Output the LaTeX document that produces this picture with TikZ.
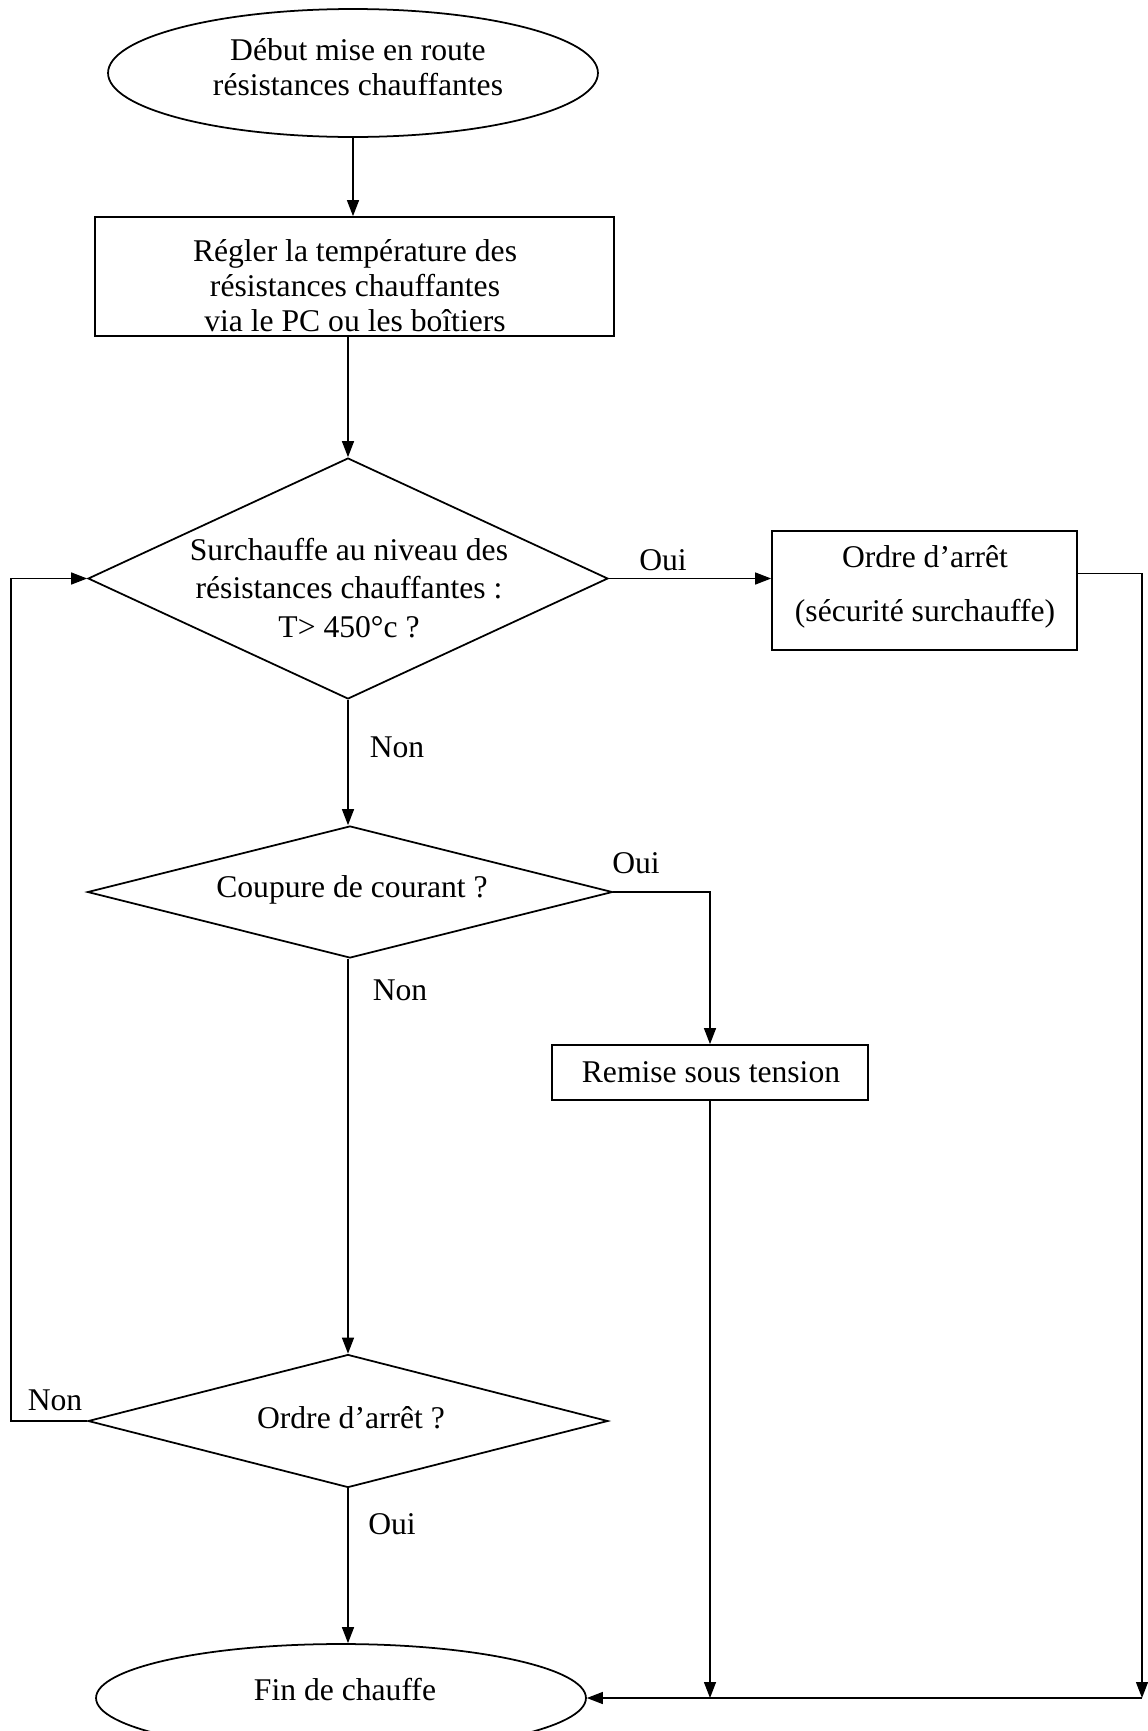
\documentclass[tikz,border=0pt]{standalone}
\usepackage{fontspec}
\setmainfont{Liberation Serif}
\usetikzlibrary{shapes.geometric,arrows.meta}
\begin{document}
\begin{tikzpicture}[x=0.02cm,y=-0.02cm,
  every node/.style={font=\fontsize{18}{20}\selectfont},
  shp/.style={draw,line width=1pt,inner sep=0pt},
  boxn/.style={shp,rectangle,align=center},
  ell/.style={shp,ellipse},
  dia/.style={shp,diamond},
  txt/.style={align=center,inner sep=0pt},
  lbl/.style={inner sep=0pt},
  con/.style={line width=0.75pt},
  arr/.style={con,-{Triangle[length=0.32cm,width=0.24cm]}}]
\useasboundingbox (0,0) rectangle (1148,1731);
% shapes
\node[ell,minimum width=9.8cm,minimum height=2.56cm] (E1) at (353,73) {};
\node[txt] (E1t) at (358,67) {Début mise en route\\résistances chauffantes};
\node[boxn,minimum width=10.38cm,minimum height=2.38cm] (B1) at (354.5,276.5) {};
\node[txt] (B1t) at (355,286) {Régler la température des\\résistances chauffantes\\via le PC ou les boîtiers};
\node[dia,minimum width=10.4cm,minimum height=4.82cm] (D1) at (348,578.5) {};
\node[txt,font=\fontsize{18}{22}\selectfont] (D1t) at (349,588) {Surchauffe au niveau des\\résistances chauffantes :\\T> 450°c ?};
\node[boxn,minimum width=6.1cm,minimum height=2.38cm] (B2) at (924.5,590.5) {};
\node[txt,font=\fontsize{18}{31}\selectfont] (B2t) at (925,587) {Ordre d’arrêt\\(sécurité surchauffe)};
\node[dia,minimum width=10.5cm,minimum height=2.64cm] (D2) at (350,892) {};
\node[txt] (D2t) at (352,890) {Coupure de courant ?};
\node[boxn,minimum width=6.32cm,minimum height=1.1cm] (B3) at (710,1072.5) {};
\node[txt] (B3t) at (711,1072) {Remise sous tension};
\node[dia,minimum width=10.4cm,minimum height=2.66cm] (D3) at (348,1421) {};
\node[txt] (D3t) at (351,1418) {Ordre d’arrêt ?};
\node[ell,minimum width=9.8cm,minimum height=2.16cm] (E2) at (341,1698) {};
\node[txt] (E2t) at (345,1689) {Fin de chauffe};
% labels
\node[lbl] (l1) at (663,560) {Oui};
\node[lbl] (l2) at (397,747) {Non};
\node[lbl] (l3) at (636,863) {Oui};
\node[lbl] (l4) at (400,990) {Non};
\node[lbl] (l5) at (55,1400) {Non};
\node[lbl] (l6) at (392,1524) {Oui};
% helper coordinates
\coordinate (R) at (1142,1698);
\coordinate (L) at (11,0);
% connectors
\draw[arr] (E1.south) -- (E1.south |- B1.north);
\draw[arr] (D1.north |- B1.south) -- (D1.north);
\draw[arr] (D1.east) -- (D1.east -| B2.west);
\draw[arr] ([yshift=0.34cm]B2.east) -| (R);
\draw[arr] (R) -- (E2.east);
\draw[arr] (D1.south) -- (D2.north -| D1.south);
\draw[arr] (D2.east) -| (B3.north);
\draw[arr] (B3.south) -- (B3.south |- E2.east);
\draw[arr] (D2.south -| D1.south) -- (D3.north -| D1.south);
\draw[arr] (D3.south) -- (E2.north -| D3.south);
\draw[arr] (D3.west) -- (D3.west -| L) |- (D1.west);
\end{tikzpicture}
\end{document}
